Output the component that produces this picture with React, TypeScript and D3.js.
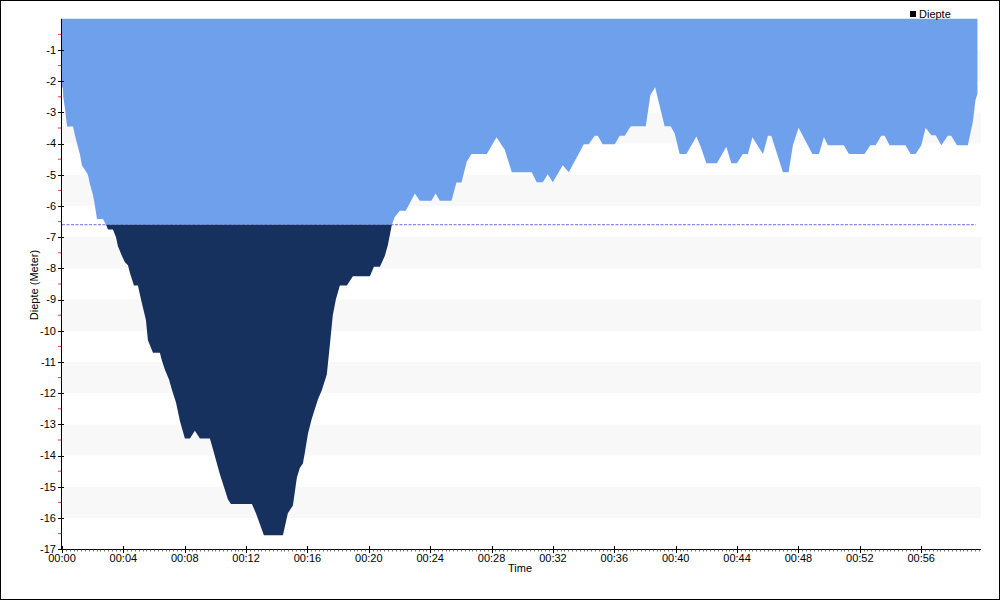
import React from "react";
import * as d3 from "d3";

const times: number[] = [
  0, 0.05, 0.08, 0.2, 0.33, 0.72, 0.85, 0.98, 1.17, 1.3, 1.5, 1.69, 1.82, 2.02, 2.15, 2.28, 2.67, 2.87, 3.0, 3.32,
  3.52, 3.65, 3.91, 4.1, 4.3, 4.43, 4.69, 4.95, 5.15, 5.47, 5.6, 5.93, 6.38, 6.51, 6.71, 6.97, 7.17, 7.43, 7.69, 8.01,
  8.34, 8.66, 8.99, 9.64, 9.84, 10.29, 10.62, 10.81, 11.01, 12.38, 12.64, 12.9, 13.16, 14.4, 14.72, 15.05, 15.31, 15.5, 15.7, 15.83,
  16.03, 16.29, 16.68, 16.94, 17.26, 17.46, 17.65, 17.85, 18.11, 18.57, 18.96, 20.07, 20.33, 20.72, 21.04, 21.24, 21.5, 21.69, 22.02, 22.41,
  23.0, 23.32, 24.08, 24.35, 24.63, 25.39, 25.71, 26.04, 26.38, 26.69, 27.69, 28.32, 28.86, 29.32, 30.62, 30.94, 31.34, 31.66, 31.99, 32.64,
  33.03, 34.01, 34.33, 34.72, 34.92, 35.24, 36.03, 36.35, 36.68, 37.07, 38.05, 38.35, 38.66, 39.28, 39.67, 39.93, 40.26, 40.7, 41.35, 41.63,
  42.0, 42.69, 43.3, 43.63, 43.99, 44.38, 44.71, 45.0, 45.69, 46.01, 46.23, 46.99, 47.36, 47.64, 48.01, 48.91, 49.34, 49.66, 49.92, 50.96,
  51.29, 52.31, 52.68, 53.03, 53.4, 53.62, 53.94, 54.98, 55.31, 55.64, 56.01, 56.29, 56.66, 56.94, 57.31, 57.74, 57.96, 58.33, 59.04, 59.37,
  59.54, 59.67,
];

const depths: number[] = [
  -2.2, -2.2, -2.5, -2.9, -3.45, -3.45, -3.75, -4.0, -4.35, -4.7, -4.85, -5.0, -5.3, -5.65, -6.0, -6.42, -6.42, -6.6, -6.75, -6.75,
  -7.0, -7.3, -7.6, -7.8, -7.9, -8.15, -8.55, -8.55, -9.0, -9.65, -10.3, -10.7, -10.7, -10.95, -11.25, -11.55, -11.9, -12.3, -12.9, -13.45,
  -13.45, -13.2, -13.45, -13.45, -13.8, -14.6, -15.1, -15.4, -15.55, -15.55, -15.85, -16.2, -16.55, -16.55, -15.85, -15.6, -14.7, -14.4, -14.25, -13.9,
  -13.3, -12.8, -12.2, -11.9, -11.4, -10.45, -9.5, -9.0, -8.55, -8.55, -8.25, -8.25, -7.95, -7.95, -7.6, -7.25, -6.6, -6.35, -6.15, -6.15,
  -5.6, -5.83, -5.83, -5.6, -5.83, -5.83, -5.25, -5.25, -4.58, -4.33, -4.33, -3.8, -4.2, -4.92, -4.92, -5.24, -5.24, -4.98, -5.24, -4.69,
  -4.92, -4.02, -4.02, -3.75, -3.75, -4.02, -4.02, -3.75, -3.75, -3.44, -3.44, -2.44, -2.19, -3.44, -3.44, -3.67, -4.33, -4.33, -3.77, -4.1,
  -4.63, -4.63, -4.1, -4.63, -4.63, -4.33, -4.33, -3.8, -4.33, -3.75, -3.75, -4.92, -4.92, -4.05, -3.49, -4.33, -4.33, -3.8, -4.05, -4.05,
  -4.33, -4.33, -4.05, -4.05, -3.75, -3.75, -4.05, -4.05, -4.33, -4.33, -4.05, -3.49, -3.73, -3.73, -4.05, -3.75, -3.75, -4.05, -4.05, -3.3,
  -2.6, -2.4,
];

const threshold = -6.6;
const yTicks: number[] = [-1, -2, -3, -4, -5, -6, -7, -8, -9, -10, -11, -12, -13, -14, -15, -16, -17];
const xTickMinutes: number[] = [0, 4, 8, 12, 16, 20, 24, 28, 32, 36, 40, 44, 48, 52, 56];
const bands: [number, number][] = [[-1, -2], [-3, -4], [-5, -6], [-7, -8], [-9, -10], [-11, -12], [-13, -14], [-15, -16]];

const FONT = "'Liberation Sans', Arial, sans-serif";

export default function App() {
  const W = 1000, H = 600;
  const x = d3.scaleLinear().domain([0, 59.9]).range([62, 981]);
  const y = d3.scaleLinear().domain([0, -17]).range([18.8, 549.2]);
  const data = times.map((t, i) => ({ t, d: depths[i] }));
  const area = d3.area<{ t: number; d: number }>()
    .x((p) => x(p.t))
    .y0(y(0))
    .y1((p) => y(p.d))
    .curve(d3.curveLinear);
  const path = area(data) || "";
  const yT = y(threshold);
  const minorY = d3.range(-0.5, -17, -1);
  const minorX = d3.range(0, 59.9, 0.25).filter((m) => Math.abs(m / 4 - Math.round(m / 4)) > 1e-6);
  const fmt = (m: number) => `00:${String(m).padStart(2, "0")}`;

  return (
    <svg width={W} height={H} style={{ position: "absolute", left: 0, top: 0, background: "#fff" }} fontFamily={FONT}>
      <defs>
        <clipPath id="above"><rect x={0} y={0} width={W} height={yT} /></clipPath>
        <clipPath id="below"><rect x={0} y={yT} width={W} height={H - yT} /></clipPath>
      </defs>
      <rect x={0.5} y={0.5} width={W - 1} height={H - 1} fill="#fff" stroke="#000" />
      {bands.map(([a, b], i) => (
        <rect key={i} x={62} y={y(a)} width={981 - 62} height={y(b) - y(a)} fill="#f8f8f8" />
      ))}
      <line x1={62} x2={976} y1={yT} y2={yT} stroke="#6a6ae8" strokeDasharray="3,1.5" strokeWidth={1} />
      <path d={path} fill="#6fa0ec" clipPath="url(#above)" />
      <path d={path} fill="#17315e" clipPath="url(#below)" />
      {/* Y axis */}
      <line x1={61.5} x2={61.5} y1={18.8} y2={549.5} stroke="#000" />
      {minorY.map((v) => (
        <line key={v} x1={58} x2={61} y1={y(v)} y2={y(v)} stroke="#ff3030" />
      ))}
      {yTicks.map((v) => (
        <g key={v}>
          <line x1={58} x2={64} y1={Math.round(y(v)) + 0.5} y2={Math.round(y(v)) + 0.5} stroke="#000" />
          <text x={56} y={y(v)} dy="0.35em" textAnchor="end" fontSize={11} fill="#000">{v}</text>
        </g>
      ))}
      {/* X axis */}
      <line x1={61.5} x2={981} y1={549.5} y2={549.5} stroke="#000" />
      {minorX.map((m) => (
        <line key={m} x1={Math.round(x(m)) + 0.5} x2={Math.round(x(m)) + 0.5} y1={549.5} y2={551.5} stroke="#555" strokeWidth={0.8} />
      ))}
      {xTickMinutes.map((m) => (
        <g key={m}>
          <line x1={Math.round(x(m)) + 0.5} x2={Math.round(x(m)) + 0.5} y1={546} y2={553} stroke="#000" />
          <text x={x(m)} y={562} textAnchor="middle" fontSize={11} fill="#000">{fmt(m)}</text>
        </g>
      ))}
      <text x={520} y={572} textAnchor="middle" fontSize={11} fill="#000">Time</text>
      <text transform={`translate(38,285) rotate(-90)`} textAnchor="middle" fontSize={11} fill="#000">Diepte (Meter)</text>
      {/* Legend */}
      <rect x={910} y={11} width={6} height={6} fill="#000" />
      <text x={919} y={18} fontSize={11} fill="#000">Diepte</text>
    </svg>
  );
}
